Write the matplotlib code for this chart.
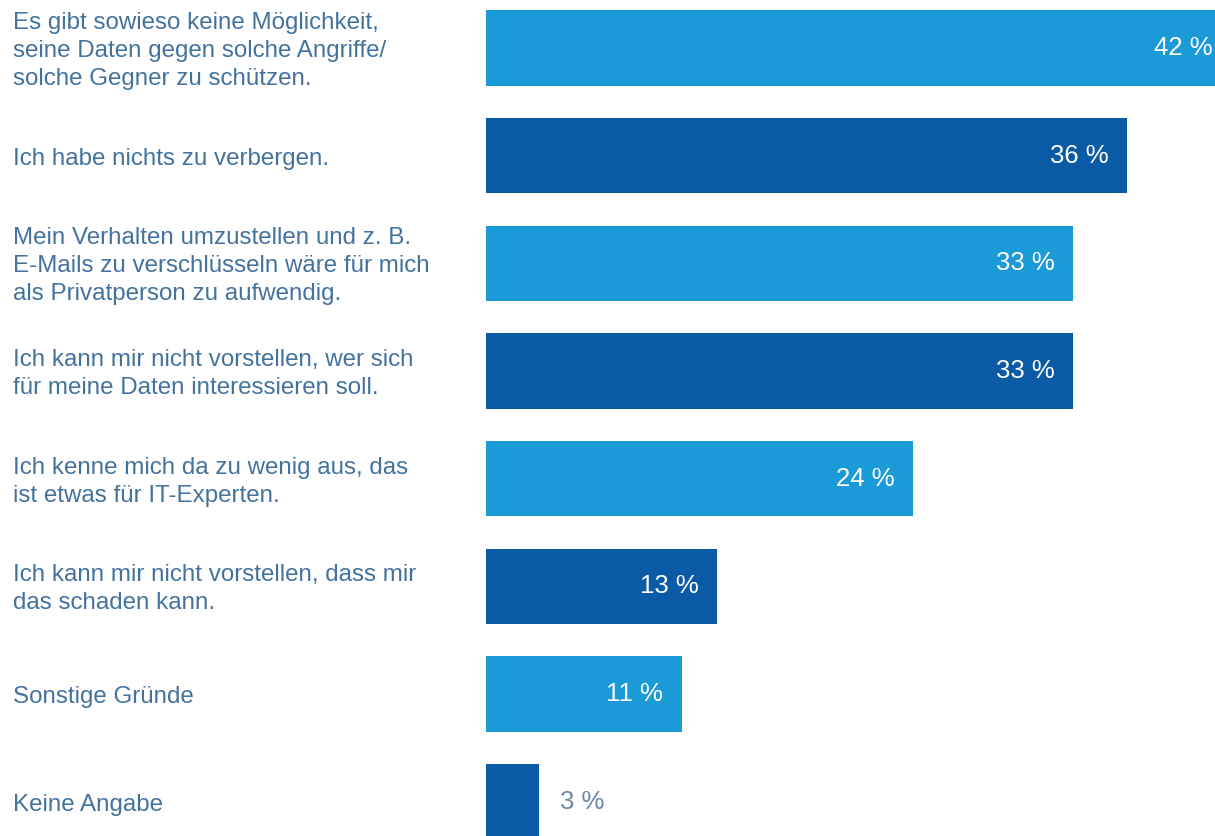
import matplotlib
matplotlib.use("Agg")
import matplotlib.pyplot as plt

categories = [
    "Es gibt sowieso keine Möglichkeit,\nseine Daten gegen solche Angriffe/\nsolche Gegner zu schützen.",
    "Ich habe nichts zu verbergen.",
    "Mein Verhalten umzustellen und z. B.\nE-Mails zu verschlüsseln wäre für mich\nals Privatperson zu aufwendig.",
    "Ich kann mir nicht vorstellen, wer sich\nfür meine Daten interessieren soll.",
    "Ich kenne mich da zu wenig aus, das\nist etwas für IT-Experten.",
    "Ich kann mir nicht vorstellen, dass mir\ndas schaden kann.",
    "Sonstige Gründe",
    "Keine Angabe",
]
values = [42, 36, 33, 33, 24, 13, 11, 3]
value_labels = ["42 %", "36 %", "33 %", "33 %", "24 %", "13 %", "11 %", "3 %"]

LIGHT = "#1a9ad7"
DARK = "#0b5aa6"
TEXT = "#44729f"
OUT_TEXT = "#6a86a8"

plt.rcParams['font.family'] = ['Liberation Sans', 'DejaVu Sans']

W, H = 1215, 836
fig = plt.figure(figsize=(W / 100, H / 100), dpi=100)
ax = fig.add_axes([486 / W, 0, 1 - 486 / W, 1])

xmax = 40.95
ax.set_xlim(0, xmax)
ax.set_ylim(7.317, -0.4457)

ys = list(range(len(values)))
colors = [LIGHT if i % 2 == 0 else DARK for i in ys]
ax.barh(ys, values, height=0.70, color=colors, edgecolor='none')

for y, v, lab in zip(ys, values, value_labels):
    if v >= 8:
        x = min(v - 1.05, xmax - 0.15)
        ax.text(x, y, lab, ha='right', va='center', color='white', fontsize=18.5)
    else:
        ax.text(v + 1.18, y, lab, ha='left', va='center', color=OUT_TEXT, fontsize=18.5)

for y, cat in zip(ys, categories):
    yf = 1 - (y + 0.4457) / (7.317 + 0.4457) - 3 / H
    fig.text(13 / W, yf, cat, ha='left', va='center', color=TEXT,
             fontsize=17.4, linespacing=1.35)

ax.axis('off')
fig.savefig("out.png", dpi=100)
